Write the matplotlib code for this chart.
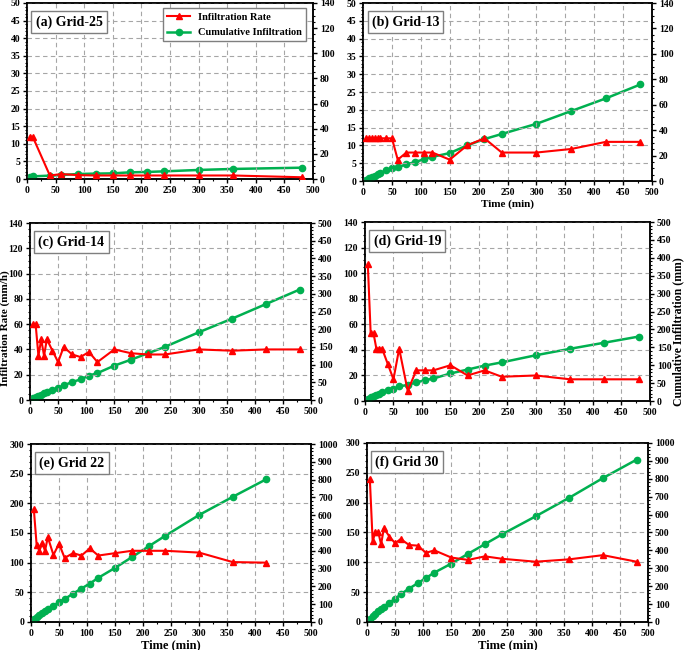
import matplotlib
matplotlib.use("Agg")
import matplotlib.pyplot as plt
from matplotlib.ticker import MultipleLocator, AutoMinorLocator

plt.rcParams["font.family"] = ["Liberation Serif", "DejaVu Serif"]
plt.rcParams["font.weight"] = "bold"

# ── data (time in min, rate in mm/h, cumulative in mm) ──────────────────────
t_a = [0, 5, 10, 40, 60, 90, 120, 150, 180, 210, 240, 300, 360, 480]
rate_a = [None, 12, 12, 1.0, 1.4, 1.1, 1.0, 1.0, 1.0, 1.0, 1.0, 1.0, 1.0, 0.5]
cum_a = [0.3, 1.3, 2.1, 2.7, 3.2, 4.0, 4.3, 4.5, 5.3, 5.6, 6.1, 7.2, 8.0, 9.0]

t_std = [0, 5, 10, 15, 20, 25, 30, 40, 50, 60, 75, 90, 105, 120,
         150, 180, 210, 240, 300, 360, 420, 480]

rate_b = [None, 12, 12, 12, 12, 12, 12, 12, 12, 6, 8, 8, 8, 8,
          6, 10, 12, 8, 8, 9, 11, 11]
cum_b = [0, 1.1, 2.1, 3.2, 4.2, 5.3, 6.3, 8.4, 10, 11, 13, 15, 17, 19,
         22, 28, 33, 37, 45, 55, 65, 76]

rate_c = [None, 60, 60, 35, 48, 35, 48, 39, 30, 42, 36, 34, 38, 30,
          40, 37, 36, 36, 40, 39, 40, 40]
cum_c = [0, 5.6, 8.5, 12, 15, 19, 22, 29, 34, 41, 51, 58, 69, 76,
         97, 114, 132, 150, 191, 230, 271, 312]

rate_d = [None, 107, 53, 53, 41, 41, 41, 29, 17, 41, 8, 24, 24, 24,
          28, 20, 24, 19, 20, 17, 17, 17]
cum_d = [0, 5, 10, 14, 18, 21, 25, 31, 34, 41, 45, 52, 58, 63,
         77, 88, 99, 108, 128, 146, 163, 180]

t_e = t_std[:-1]
rate_e = [None, 190, 130, 120, 133, 120, 143, 113, 132, 108, 116, 112, 124, 112,
          116, 120, 120, 120, 117, 101, 100]
cum_e = [0, 17, 28, 39, 50, 60, 71, 91, 112, 129, 159, 188, 216, 248,
         304, 364, 425, 485, 601, 703, 802]

rate_f = [None, 240, 136, 150, 151, 130, 157, 143, 132, 139, 129, 128, 116, 120,
          108, 104, 110, 106, 101, 105, 112, 101]
cum_f = [0, 19, 34, 47, 60, 71, 86, 108, 129, 155, 187, 216, 246, 276,
         326, 381, 435, 489, 590, 694, 804, 907]

panels = [
    # label, time, rate, cum, left (max, step), right (max, step), axes rect
    ("(a) Grid-25", t_a, rate_a, cum_a, (50, 5), (140, 20), [0.0394, 0.7246, 0.4175, 0.2708]),
    ("(b) Grid-13", t_std, rate_b, cum_b, (50, 5), (140, 20), [0.530, 0.7215, 0.4219, 0.2738]),
    ("(c) Grid-14", t_std, rate_c, cum_c, (140, 20), (500, 50), [0.0438, 0.3846, 0.410, 0.2723]),
    ("(d) Grid-19", t_std, rate_d, cum_d, (140, 20), (500, 50), [0.5328, 0.383, 0.416, 0.2754]),
    ("(e) Grid 22", t_e, rate_e, cum_e, (300, 50), (1000, 100), [0.0453, 0.0431, 0.4088, 0.2738]),
    ("(f) Grid 30", t_std, rate_f, cum_f, (300, 50), (1000, 100), [0.5358, 0.0431, 0.410, 0.2754]),
]

RED = "#ff0000"
GREEN = "#00b050"
GRID = "#a6a6a6"
TICK_FS = 7

fig = plt.figure(figsize=(6.85, 6.5), dpi=100, facecolor="white")
axes = []

for label, t, rate, cum, (lmax, lstep), (rmax, rstep), rect in panels:
    ax = fig.add_axes(rect)
    ax2 = ax.twinx()

    # rate points start at 5 min
    tr = [ti for ti, r in zip(t, rate) if r is not None]
    rr = [r for r in rate if r is not None]
    l1, = ax.plot(tr, rr, color=RED, lw=1.5, marker="^", ms=4.5, zorder=3,
                  label="Infiltration Rate")
    l2, = ax2.plot(t, cum, color=GREEN, lw=1.8, marker="o", ms=4.5, zorder=3,
                   label="Cumulative Infiltration")

    ax.set_xlim(0, 500)
    ax.set_ylim(0, lmax)
    ax2.set_ylim(0, rmax)
    ax.xaxis.set_major_locator(MultipleLocator(50))
    ax.xaxis.set_minor_locator(AutoMinorLocator(2))
    ax.yaxis.set_major_locator(MultipleLocator(lstep))
    ax.yaxis.set_minor_locator(AutoMinorLocator())
    ax2.yaxis.set_major_locator(MultipleLocator(rstep))
    ax2.yaxis.set_minor_locator(AutoMinorLocator())

    ax.grid(True, which="major", color=GRID, ls=(0, (4, 3)), lw=0.8)
    ax.set_axisbelow(True)
    for a in (ax, ax2):
        a.tick_params(which="major", length=3, width=1, labelsize=TICK_FS, pad=2)
        a.tick_params(which="minor", length=1.5, width=0.8)
        for s in a.spines.values():
            s.set_linewidth(1.1)
    ax.set_zorder(ax2.get_zorder() + 1)
    ax.patch.set_visible(False)

    ax.text(0.03, 0.93, label, transform=ax.transAxes, fontsize=10,
            fontweight="bold", va="top", ha="left", zorder=6,
            bbox=dict(boxstyle="square,pad=0.3", facecolor="white",
                      edgecolor="#7f7f7f", lw=1.0))
    axes.append((ax, ax2, l1, l2))

# legend only on the first panel
ax, ax2, l1, l2 = axes[0]
ax.legend([l1, l2], [l1.get_label(), l2.get_label()], loc="upper right",
          fontsize=7.5, frameon=True, fancybox=False, edgecolor="#7f7f7f",
          framealpha=1, handlelength=2.2, borderpad=0.4, labelspacing=0.6,
          bbox_to_anchor=(0.995, 1.0))

axes[1][0].set_xlabel("Time (min)", fontsize=8, fontweight="bold", labelpad=2)
axes[4][0].set_xlabel("Time (min)", fontsize=9, fontweight="bold", labelpad=1)
axes[5][0].set_xlabel("Time (min)", fontsize=9, fontweight="bold", labelpad=1)

# side labels placed in figure coords so they stay inside the canvas
fig.text(0.0075, 0.495, "Infiltration Rate (mm/h)", rotation=90, fontsize=8,
         fontweight="bold", ha="center", va="center")
fig.text(0.990, 0.49, "Cumulative Infiltration (mm)", rotation=90, fontsize=8.5,
         fontweight="bold", ha="center", va="center")

fig.savefig("out.png", dpi=100, facecolor="white")
